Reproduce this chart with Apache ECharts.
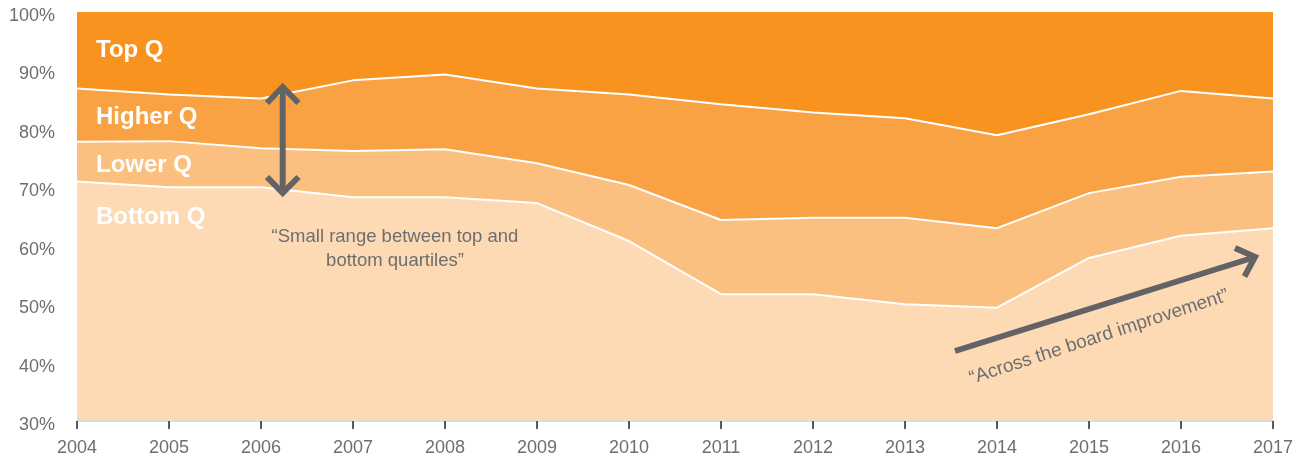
<!DOCTYPE html>
<html>
<head>
<meta charset="utf-8">
<script src="https://cdn.jsdelivr.net/npm/echarts@6/dist/echarts.min.js"></script>
<style>
  html, body { margin: 0; padding: 0; background: #ffffff; }
  #chart { width: 1306px; height: 457px; }
</style>
</head>
<body>
<div id="chart"></div>
<script>
// Categories
const years = ['2004','2005','2006','2007','2008','2009','2010','2011','2012','2013','2014','2015','2016','2017'];
// Upper edge of each quartile band (% of 100)
const topQ    = [100, 100, 100, 100, 100, 100, 100, 100, 100, 100, 100, 100, 100, 100];
const higherQ = [86.9, 85.9, 85.2, 88.3, 89.3, 86.9, 85.9, 84.2, 82.8, 81.8, 78.9, 82.5, 86.5, 85.2];
const lowerQ  = [77.8, 77.9, 76.7, 76.2, 76.5, 74.1, 70.4, 64.4, 64.8, 64.8, 63.0, 69.0, 71.8, 72.7];
const bottomQ = [71.0, 70.0, 70.0, 68.3, 68.3, 67.3, 60.8, 51.7, 51.7, 50.0, 49.4, 57.9, 61.7, 63.0];
// Y tick settings
const yMin = 30, yMax = 100, yStep = 10;

const bands = [
  { name: 'Top Q',    data: topQ,    color: '#F7931E', line: 0 },
  { name: 'Higher Q', data: higherQ, color: '#F8A244', line: 2 },
  { name: 'Lower Q',  data: lowerQ,  color: '#FBBF7F', line: 2 },
  { name: 'Bottom Q', data: bottomQ, color: '#FDDAB4', line: 2 }
];

const gray = '#6d6e71';
const arrowGray = '#636366';

const chart = echarts.init(document.getElementById('chart'), null, { renderer: 'canvas' });

const bandLabels = [
  { text: 'Top Q', y: 50 },
  { text: 'Higher Q', y: 117.5 },
  { text: 'Lower Q', y: 165.5 },
  { text: 'Bottom Q', y: 217 }
].map(l => ({
  type: 'text', x: 96, y: l.y, z: 100,
  style: { text: l.text, fill: '#ffffff', font: 'bold 24px "Liberation Sans", Arial, sans-serif',
           textAlign: 'left', textVerticalAlign: 'middle' }
}));

const option = {
  animation: false,
  backgroundColor: '#ffffff',
  grid: { left: 77, right: 33, top: 12, bottom: 36, containLabel: false },
  xAxis: {
    type: 'category',
    data: years,
    boundaryGap: false,
    axisLine: { show: true, lineStyle: { color: '#dcdcdc', width: 2 } },
    axisTick: { show: true, length: 8, lineStyle: { color: '#5a5a5e', width: 2 } },
    axisLabel: { color: gray, fontSize: 18, fontFamily: '"Liberation Sans", Arial, sans-serif', margin: 18 },
    splitLine: { show: false },
    z: 10
  },
  yAxis: {
    type: 'value',
    min: yMin, max: yMax, interval: yStep,
    axisLine: { show: false },
    axisTick: { show: false },
    splitLine: { show: false },
    axisLabel: {
      color: gray, fontSize: 18, fontFamily: '"Liberation Sans", Arial, sans-serif',
      margin: 22, formatter: '{value}%', verticalAlign: 'top', lineHeight: 8
    }
  },
  series: bands.map((b, i) => ({
    name: b.name,
    type: 'line',
    data: b.data,
    symbol: 'none',
    silent: true,
    z: 2 + i,
    lineStyle: { color: '#ffffff', width: b.line },
    areaStyle: { color: b.color, opacity: 1 }
  })),
  graphic: bandLabels.concat([
    // double-headed vertical arrow
    { type: 'line', z: 100, shape: { x1: 282.7, y1: 88, x2: 282.7, y2: 192 },
      style: { stroke: arrowGray, lineWidth: 6 } },
    { type: 'polyline', z: 100, shape: { points: [[267, 103], [282.7, 87], [298.5, 103]] },
      style: { stroke: arrowGray, lineWidth: 6, fill: null, lineJoin: 'miter' } },
    { type: 'polyline', z: 100, shape: { points: [[267, 177], [282.7, 193], [298.5, 177]] },
      style: { stroke: arrowGray, lineWidth: 6, fill: null, lineJoin: 'miter' } },
    { type: 'text', z: 100, x: 395, y: 249,
      style: { text: '\u201CSmall range between top and\nbottom quartiles\u201D', fill: gray,
               font: '18.5px "Liberation Sans", Arial, sans-serif', lineHeight: 24,
               textAlign: 'center', textVerticalAlign: 'middle' } },
    // diagonal improvement arrow
    { type: 'line', z: 100, shape: { x1: 955, y1: 351, x2: 1252, y2: 258 },
      style: { stroke: arrowGray, lineWidth: 6 } },
    { type: 'polyline', z: 100, shape: { points: [[1235, 248], [1255, 257], [1244.5, 276.5]] },
      style: { stroke: arrowGray, lineWidth: 6, fill: null, lineJoin: 'miter' } },
    { type: 'text', z: 100, x: 1099, y: 337, rotation: 18 * Math.PI / 180,
      style: { text: '\u201CAcross the board improvement\u201D', fill: gray,
               font: '19px "Liberation Sans", Arial, sans-serif',
               textAlign: 'center', textVerticalAlign: 'middle' } }
  ])
};

chart.setOption(option);
</script>
</body>
</html>
